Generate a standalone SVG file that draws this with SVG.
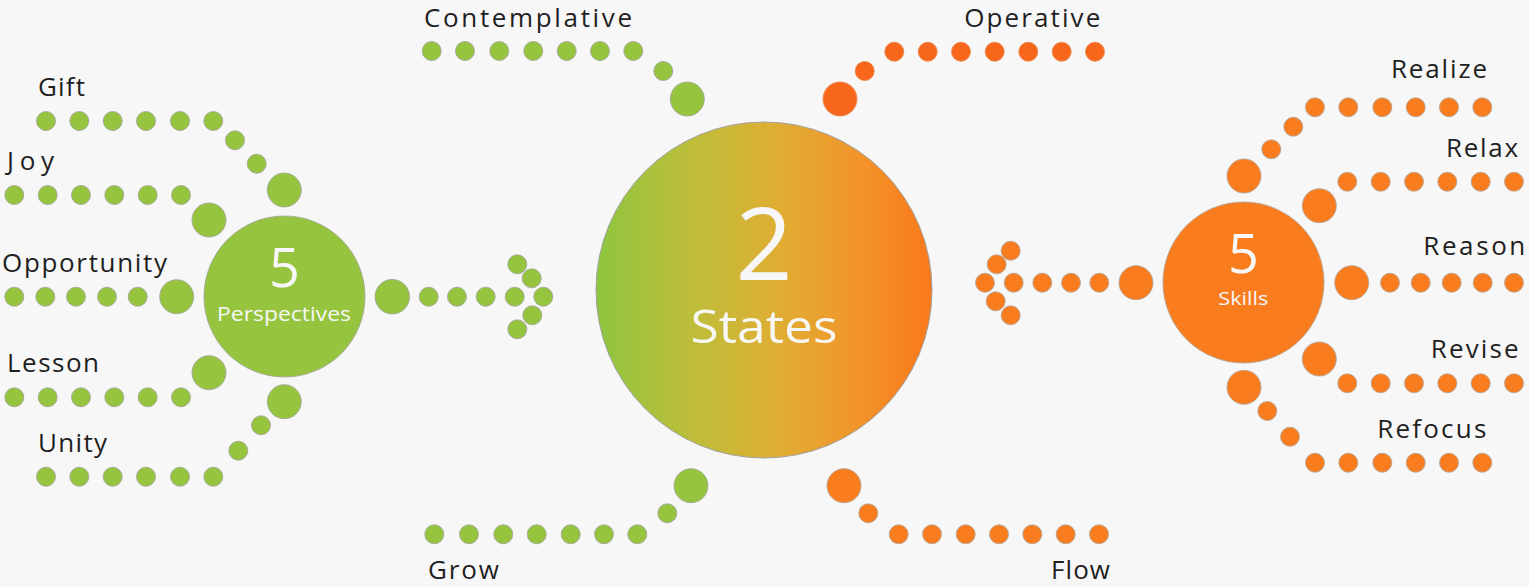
<svg xmlns="http://www.w3.org/2000/svg" width="1529" height="587" viewBox="0 0 1529 587">
<defs>
<linearGradient id="stateGrad" x1="0" y1="0" x2="1" y2="0">
<stop offset="0" stop-color="#8dc63f"/>
<stop offset="0.3" stop-color="#c0bd3a"/>
<stop offset="0.55" stop-color="#e0ad33"/>
<stop offset="0.8" stop-color="#f3922a"/>
<stop offset="1" stop-color="#f9781a"/>
</linearGradient>
<style>
.g{fill:#96c43e;stroke:#a3a89a;stroke-width:0.9}
.o{fill:#f97d1f;stroke:#b7a595;stroke-width:0.9}
.r{fill:#f8661c;stroke:#e98a50;stroke-width:0.9}
.lbl{font-family:"Open Sans","Liberation Sans",sans-serif;font-size:26px;fill:#1f1f1f}
.w{font-family:"Open Sans","Liberation Sans",sans-serif;fill:#f7f7f7;text-anchor:middle}
</style>
</defs>
<rect width="1529" height="587" fill="#f7f7f7"/>

<g id="connectors">
<!-- Gift -->
<g class="g">
<circle cx="46" cy="121" r="9.5"/><circle cx="79.3" cy="121" r="9.5"/><circle cx="112.7" cy="121" r="9.5"/><circle cx="146" cy="121" r="9.5"/><circle cx="180" cy="121" r="9.5"/><circle cx="213.3" cy="121" r="9.5"/>
<circle cx="235" cy="140.3" r="9.5"/><circle cx="256.7" cy="163.7" r="9.5"/><circle cx="284.3" cy="190" r="17"/>
</g>
<!-- Joy -->
<g class="g">
<circle cx="14.3" cy="195" r="9.5"/><circle cx="47.7" cy="195" r="9.5"/><circle cx="81" cy="195" r="9.5"/><circle cx="114.3" cy="195" r="9.5"/><circle cx="147.7" cy="195" r="9.5"/><circle cx="181" cy="195" r="9.5"/>
<circle cx="209" cy="220" r="17"/>
</g>
<!-- Opportunity -->
<g class="g">
<circle cx="14.3" cy="296.7" r="9.5"/><circle cx="45.3" cy="296.7" r="9.5"/><circle cx="76" cy="296.7" r="9.5"/><circle cx="107" cy="296.7" r="9.5"/><circle cx="137.7" cy="296.7" r="9.5"/>
<circle cx="176.7" cy="296.7" r="17"/>
</g>
<!-- Lesson -->
<g class="g">
<circle cx="14.3" cy="397.3" r="9.5"/><circle cx="47.7" cy="397.3" r="9.5"/><circle cx="81" cy="397.3" r="9.5"/><circle cx="114.3" cy="397.3" r="9.5"/><circle cx="147.7" cy="397.3" r="9.5"/><circle cx="181" cy="397.3" r="9.5"/>
<circle cx="209" cy="372.7" r="17"/>
</g>
<!-- Unity -->
<g class="g">
<circle cx="46" cy="476.7" r="9.5"/><circle cx="79.3" cy="476.7" r="9.5"/><circle cx="112.7" cy="476.7" r="9.5"/><circle cx="146" cy="476.7" r="9.5"/><circle cx="180" cy="476.7" r="9.5"/><circle cx="213.3" cy="476.7" r="9.5"/>
<circle cx="238.3" cy="450.7" r="9.5"/><circle cx="261" cy="425.3" r="9.5"/><circle cx="284.3" cy="401.7" r="17"/>
</g>
<!-- Left arrow -->
<g class="g">
<circle cx="392.3" cy="296.7" r="17.3"/>
<circle cx="428.7" cy="296.7" r="9.5"/><circle cx="457" cy="296.7" r="9.5"/><circle cx="485.7" cy="296.7" r="9.5"/><circle cx="514.7" cy="296.7" r="9.5"/><circle cx="543.3" cy="296.7" r="9.5"/>
<circle cx="517.3" cy="264.3" r="9.5"/><circle cx="531.7" cy="278.3" r="9.5"/>
<circle cx="532.3" cy="315.3" r="9.5"/><circle cx="517.3" cy="329.3" r="9.5"/>
</g>
<!-- Contemplative -->
<g class="g">
<circle cx="431.7" cy="51" r="9.5"/><circle cx="465" cy="51" r="9.5"/><circle cx="499.3" cy="51" r="9.5"/><circle cx="533.3" cy="51" r="9.5"/><circle cx="566.7" cy="51" r="9.5"/><circle cx="600" cy="51" r="9.5"/><circle cx="633.3" cy="51" r="9.5"/>
<circle cx="663.3" cy="71" r="9.5"/><circle cx="687.3" cy="99" r="17"/>
</g>
<!-- Grow -->
<g class="g">
<circle cx="434.3" cy="534.3" r="9.5"/><circle cx="469" cy="534.3" r="9.5"/><circle cx="503.3" cy="534.3" r="9.5"/><circle cx="536.7" cy="534.3" r="9.5"/><circle cx="570.7" cy="534.3" r="9.5"/><circle cx="604" cy="534.3" r="9.5"/><circle cx="637.3" cy="534.3" r="9.5"/>
<circle cx="667.3" cy="513.3" r="9.5"/><circle cx="691" cy="485.7" r="17"/>
</g>
<!-- Operative -->
<g class="r">
<circle cx="894.3" cy="51.7" r="9.5"/><circle cx="927.7" cy="51.7" r="9.5"/><circle cx="961" cy="51.7" r="9.5"/><circle cx="994.7" cy="51.7" r="9.5"/><circle cx="1028.3" cy="51.7" r="9.5"/><circle cx="1061.7" cy="51.7" r="9.5"/><circle cx="1095" cy="51.7" r="9.5"/>
<circle cx="864.7" cy="71" r="9.5"/><circle cx="840" cy="99" r="17"/>
</g>
<!-- Flow -->
<g class="o">
<circle cx="844" cy="485.7" r="17"/><circle cx="868.3" cy="513.3" r="9.5"/>
<circle cx="898.7" cy="534.3" r="9.5"/><circle cx="932" cy="534.3" r="9.5"/><circle cx="965.7" cy="534.3" r="9.5"/><circle cx="999" cy="534.3" r="9.5"/><circle cx="1032.3" cy="534.3" r="9.5"/><circle cx="1065.7" cy="534.3" r="9.5"/><circle cx="1099" cy="534.3" r="9.5"/>
</g>
<!-- Right arrow -->
<g class="o">
<circle cx="1136" cy="282.7" r="17"/>
<circle cx="1099.3" cy="282.7" r="9.5"/><circle cx="1071" cy="282.7" r="9.5"/><circle cx="1042.3" cy="282.7" r="9.5"/><circle cx="1013.7" cy="282.7" r="9.5"/><circle cx="985" cy="282.7" r="9.5"/>
<circle cx="996.7" cy="264.3" r="9.5"/><circle cx="1010.7" cy="250.7" r="9.5"/>
<circle cx="995.7" cy="301.3" r="9.5"/><circle cx="1010.7" cy="315.3" r="9.5"/>
</g>
<!-- Realize -->
<g class="o">
<circle cx="1244" cy="176" r="17"/><circle cx="1271.3" cy="149.3" r="9.5"/><circle cx="1293.3" cy="126.7" r="9.5"/>
<circle cx="1315" cy="107.3" r="9.5"/><circle cx="1348.3" cy="107.3" r="9.5"/><circle cx="1382.3" cy="107.3" r="9.5"/><circle cx="1415.7" cy="107.3" r="9.5"/><circle cx="1449" cy="107.3" r="9.5"/><circle cx="1482.3" cy="107.3" r="9.5"/>
</g>
<!-- Relax -->
<g class="o">
<circle cx="1319.3" cy="205.7" r="17"/>
<circle cx="1347.3" cy="181.7" r="9.5"/><circle cx="1380.7" cy="181.7" r="9.5"/><circle cx="1414" cy="181.7" r="9.5"/><circle cx="1447.3" cy="181.7" r="9.5"/><circle cx="1480.7" cy="181.7" r="9.5"/><circle cx="1514" cy="181.7" r="9.5"/>
</g>
<!-- Reason -->
<g class="o">
<circle cx="1351.7" cy="282.7" r="17"/>
<circle cx="1390" cy="282.7" r="9.5"/><circle cx="1420.7" cy="282.7" r="9.5"/><circle cx="1451.7" cy="282.7" r="9.5"/><circle cx="1482.7" cy="282.7" r="9.5"/><circle cx="1514" cy="282.7" r="9.5"/>
</g>
<!-- Revise -->
<g class="o">
<circle cx="1319.3" cy="359" r="17"/>
<circle cx="1347.3" cy="383.3" r="9.5"/><circle cx="1380.7" cy="383.3" r="9.5"/><circle cx="1414" cy="383.3" r="9.5"/><circle cx="1447.3" cy="383.3" r="9.5"/><circle cx="1480.7" cy="383.3" r="9.5"/><circle cx="1514" cy="383.3" r="9.5"/>
</g>
<!-- Refocus -->
<g class="o">
<circle cx="1244" cy="387.3" r="17"/><circle cx="1267.3" cy="411" r="9.5"/><circle cx="1290" cy="436.7" r="9.5"/>
<circle cx="1315" cy="462.7" r="9.5"/><circle cx="1348.3" cy="462.7" r="9.5"/><circle cx="1382.3" cy="462.7" r="9.5"/><circle cx="1415.7" cy="462.7" r="9.5"/><circle cx="1449" cy="462.7" r="9.5"/><circle cx="1482.3" cy="462.7" r="9.5"/>
</g>
</g>

<g id="node-states">
<circle cx="764" cy="290" r="168" fill="url(#stateGrad)" stroke="#a0a0a0" stroke-width="1"/>
<text class="w"><tspan x="764" y="280" font-size="100">2</tspan><tspan x="764" y="343" font-size="46" textLength="147" lengthAdjust="spacingAndGlyphs">States</tspan></text>
</g>
<g id="node-perspectives">
<circle cx="284.5" cy="296.5" r="80.5" fill="#96c43e" stroke="#a3a89a" stroke-width="0.9"/>
<text class="w"><tspan x="284.5" y="287" font-size="54">5</tspan><tspan x="284" y="321" font-size="20" textLength="134" lengthAdjust="spacingAndGlyphs">Perspectives</tspan></text>
</g>
<g id="node-skills">
<circle cx="1243.5" cy="282.5" r="80.5" fill="#f97d1f" stroke="#b7a595" stroke-width="0.9"/>
<text class="w"><tspan x="1243.5" y="273" font-size="54">5</tspan><tspan x="1243.3" y="305" font-size="19" textLength="50" lengthAdjust="spacingAndGlyphs">Skills</tspan></text>
</g>

<g id="node-gift"><text class="lbl" x="38" y="96" textLength="47">Gift</text></g>
<g id="node-joy"><text class="lbl" x="7" y="170" textLength="47">Joy</text></g>
<g id="node-opportunity"><text class="lbl" x="2" y="272" textLength="165">Opportunity</text></g>
<g id="node-lesson"><text class="lbl" x="7" y="372" textLength="92">Lesson</text></g>
<g id="node-unity"><text class="lbl" x="38" y="452" textLength="69">Unity</text></g>
<g id="node-contemplative"><text class="lbl" x="424" y="26.7" textLength="208">Contemplative</text></g>
<g id="node-operative"><text class="lbl" x="964.3" y="26.7" textLength="136">Operative</text></g>
<g id="node-grow"><text class="lbl" x="428" y="579.3" textLength="71">Grow</text></g>
<g id="node-flow"><text class="lbl" x="1051" y="579.3" textLength="59">Flow</text></g>
<g id="node-realize"><text class="lbl" x="1391" y="78.3" textLength="96">Realize</text></g>
<g id="node-relax"><text class="lbl" x="1446" y="156.7" textLength="72">Relax</text></g>
<g id="node-reason"><text class="lbl" x="1423.3" y="255" textLength="102">Reason</text></g>
<g id="node-revise"><text class="lbl" x="1430.7" y="358.3" textLength="88">Revise</text></g>
<g id="node-refocus"><text class="lbl" x="1377.3" y="438.3" textLength="109">Refocus</text></g>
</svg>
